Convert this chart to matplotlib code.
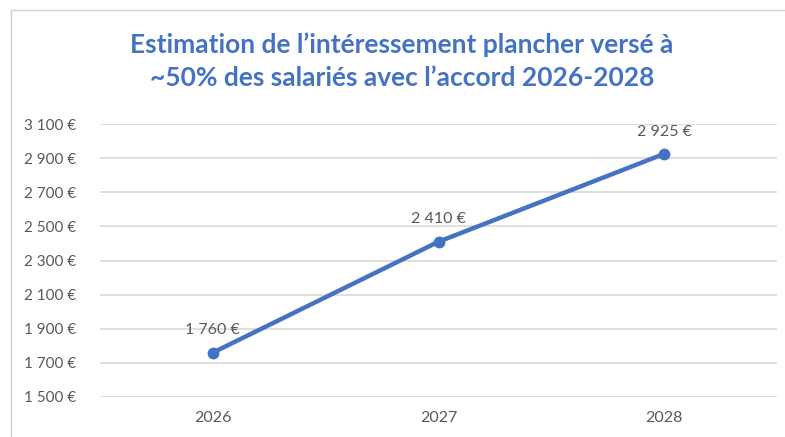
import matplotlib
matplotlib.use("Agg")
import matplotlib.pyplot as plt
from matplotlib.lines import Line2D

# données
annees = ["2026", "2027", "2028"]
montants = [1760, 2410, 2925]
graduations = [1500, 1700, 1900, 2100, 2300, 2500, 2700, 2900, 3100]

BLEU = "#4472C4"
GRIS = "#595959"

plt.rcParams["font.family"] = ["Lato", "DejaVu Sans"]


def euros(v):
    s = f"{v:,.0f}".replace(",", " ")
    return f"{s} €"


fig = plt.figure(figsize=(7.85, 4.37), dpi=100)
ax = fig.add_axes([100 / 785, 40 / 437, 677 / 785, 273 / 437])

x = range(len(annees))
ax.plot(x, montants, color=BLEU, lw=3.2, marker="o", ms=7.5, solid_capstyle="round")
for xi, v in zip(x, montants):
    ax.annotate(euros(v), (xi, v), xytext=(0, 11), textcoords="offset points",
                ha="center", va="bottom", fontsize=11.5, color=GRIS)

ax.set_xlim(-0.5, len(annees) - 0.5)
ax.set_ylim(graduations[0], graduations[-1])
ax.set_xticks(list(x))
ax.set_xticklabels(annees)
ax.set_yticks(graduations)
ax.set_yticklabels([euros(g) for g in graduations])
ax.tick_params(length=0, labelsize=11, labelcolor=GRIS)
ax.tick_params(axis="x", labelsize=11.5, pad=10)
ax.tick_params(axis="y", pad=17)
ax.grid(axis="y", color="#D9D9D9", lw=1.2)
ax.set_axisbelow(True)
for sp in ax.spines.values():
    sp.set_visible(False)

fig.text(402 / 785, 1 - 45 / 437, "Estimation de l\u2019intéressement plancher versé à",
         ha="center", va="center", fontsize=19, fontweight="bold", color=BLEU)
fig.text(402 / 785, 1 - 78 / 437, "~50% des salariés avec l\u2019accord 2026-2028",
         ha="center", va="center", fontsize=19, fontweight="bold", color=BLEU)

# cadre du graphique (bords gauche et haut visibles)
fig.add_artist(Line2D([11 / 785, 11 / 785], [0, 1 - 10 / 437], color="#D0D0D0", lw=1))
fig.add_artist(Line2D([11 / 785, 1], [1 - 10 / 437, 1 - 10 / 437], color="#D0D0D0", lw=1))

fig.savefig("out.png", dpi=100)
